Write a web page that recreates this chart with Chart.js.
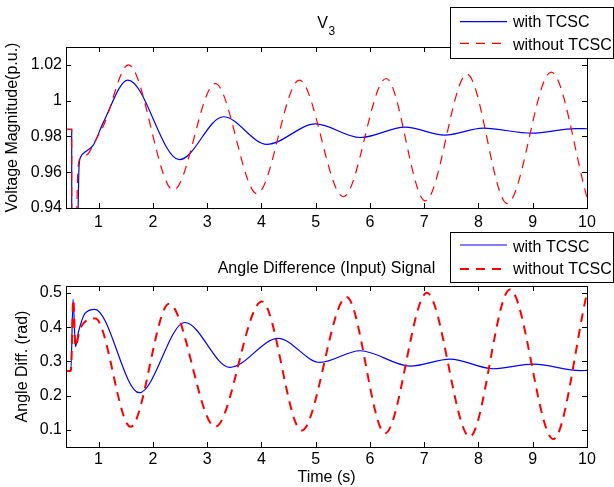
<!DOCTYPE html>
<html>
<head>
<meta charset="utf-8">
<script src="https://cdn.jsdelivr.net/npm/chart.js@4.4.1/dist/chart.umd.min.js"></script>
<style>
  body { margin: 0; background: #fff; }
  #wrap { position: relative; width: 614px; height: 487px; }
  #wrap canvas { position: absolute; left: 0; top: 0; }
</style>
</head>
<body>
<div id="wrap">
  <canvas id="voltChart" width="614" height="487"></canvas>
  <canvas id="angleChart" width="614" height="487"></canvas>
</div>
<script>
// tick values
var timeTicks = [1, 2, 3, 4, 5, 6, 7, 8, 9, 10];
var voltTicks = [0.94, 0.96, 0.98, 1, 1.02];
var angleTicks = [0.1, 0.2, 0.3, 0.4, 0.5];

var seriesNames = ['with TCSC', 'without TCSC'];

// V3 magnitude (p.u.)
var voltTimeWith = [0.40, 0.505, 0.506, 0.595, 0.64, 0.67, 0.75, 0.90, 1.09, 1.54, 2.49, 3.30, 4.10, 5.00, 5.82, 6.65, 7.38, 8.09, 8.98, 9.80, 10.0];
var voltWith     = [0.984, 0.984, 0.90, 0.90, 0.963, 0.9685, 0.9713, 0.975, 0.988, 1.0115, 0.967, 0.991, 0.9756, 0.987, 0.9794, 0.9852, 0.9807, 0.9846, 0.9818, 0.9844, 0.9843];

var voltTimeWithout = [0.40, 0.505, 0.506, 0.57, 0.62, 0.67, 0.81, 0.93, 1.09, 1.55, 2.38, 3.15, 3.92, 4.70, 5.51, 6.30, 7.02, 7.79, 8.53, 9.34, 10.0];
var voltWithout     = [0.984, 0.984, 0.90, 0.90, 0.962, 0.968, 0.9704, 0.977, 0.986, 1.020, 0.950, 1.0096, 0.948, 1.0115, 0.9463, 1.0124, 0.9440, 1.0148, 0.9425, 1.0160, 0.946];

// angle difference (rad)
var angleTimeWith = [0.40, 0.49, 0.53, 0.575, 0.63, 0.75, 0.93, 1.75, 2.59, 3.42, 4.31, 5.08, 5.82, 6.74, 7.48, 8.27, 9.01, 9.88, 10.0];
var angleWith     = [0.272, 0.272, 0.481, 0.343, 0.386, 0.44, 0.452, 0.2085, 0.4135, 0.2825, 0.367, 0.297, 0.331, 0.2863, 0.3067, 0.2785, 0.292, 0.273, 0.2735];

var angleTimeWithout = [0.40, 0.49, 0.535, 0.575, 0.66, 0.94, 1.59, 2.30, 3.15, 4.01, 4.74, 5.57, 6.28, 7.05, 7.84, 8.58, 9.38, 10.0];
var angleWithout     = [0.272, 0.272, 0.481, 0.343, 0.396, 0.425, 0.109, 0.468, 0.109, 0.475, 0.098, 0.488, 0.090, 0.500, 0.080, 0.510, 0.073, 0.50];

var FONT = "'Liberation Sans', Arial, Helvetica, sans-serif";
Chart.defaults.font.family = FONT;
Chart.defaults.font.size = 16;
Chart.defaults.color = '#000';

function makePoints(times, values) {
  var pts = [];
  for (var i = 0; i < times.length; i++) {
    pts.push({x: times[i], y: values[i]});
  }
  return pts;
}

//box around the plot with inner ticks, then title and legend on top
var matlabAxes = {
  id: 'matlabAxes',
  afterDatasetsDraw: function(chart, args, opts) {
    var a = chart.chartArea;
    var ctx = chart.ctx;
    var xs = chart.scales.x, ys = chart.scales.y;
    ctx.save();
    ctx.strokeStyle = '#000';
    ctx.lineWidth = 1;
    ctx.setLineDash([]);
    ctx.beginPath();
    timeTicks.forEach(function(t) {
      var px = Math.round(xs.getPixelForValue(t)) + 0.5;
      ctx.moveTo(px, a.bottom); ctx.lineTo(px, a.bottom - 5);
      ctx.moveTo(px, a.top); ctx.lineTo(px, a.top + 5);
    });
    opts.yTicks.forEach(function(v) {
      var py = Math.round(ys.getPixelForValue(v)) + 0.5;
      ctx.moveTo(a.left, py); ctx.lineTo(a.left + 5, py);
      ctx.moveTo(a.right, py); ctx.lineTo(a.right - 5, py);
    });
    ctx.stroke();
    ctx.strokeRect(a.left + 0.5, a.top + 0.5, a.right - a.left, a.bottom - a.top);
    ctx.restore();
  },
  afterDraw: function(chart, args, opts) {
    var ctx = chart.ctx;
    ctx.save();
    ctx.fillStyle = '#000';
    ctx.textBaseline = 'alphabetic';
    // title
    ctx.font = '16px ' + FONT;
    ctx.textAlign = opts.sub ? 'left' : 'center';
    ctx.fillText(opts.title, opts.titleX, opts.titleY);
    if (opts.sub) {
      var w = ctx.measureText(opts.title).width;
      ctx.font = '12px ' + FONT;
      ctx.fillText(opts.sub, opts.titleX + w + 0.5, opts.titleY + 6.5);
    }
    // legend box
    var L = opts.legend;
    ctx.fillStyle = '#fff';
    ctx.fillRect(L.x, L.y, L.w, L.h);
    ctx.strokeStyle = '#000';
    ctx.lineWidth = 1;
    ctx.strokeRect(L.x + 0.5, L.y + 0.5, L.w, L.h);
    chart.data.datasets.forEach(function(ds, i) {
      var ly = L.rows[i];
      ctx.strokeStyle = ds.borderColor;
      ctx.lineWidth = ds.borderWidth;
      ctx.setLineDash(ds.borderDash || []);
      ctx.beginPath();
      ctx.moveTo(460, ly);
      ctx.lineTo(507, ly);
      ctx.stroke();
      ctx.setLineDash([]);
      ctx.fillStyle = '#000';
      ctx.font = '16px ' + FONT;
      ctx.textAlign = 'left';
      ctx.fillText(ds.label, 513, L.base[i]);
    });
    ctx.restore();
  }
};

function createConfig(p) {
  return {
    type: 'line',
    data: {
      datasets: [{
        label: seriesNames[0],
        data: makePoints(p.t1, p.v1),
        borderColor: '#0000ff',
        borderWidth: 1.2,
        pointRadius: 0,
        cubicInterpolationMode: 'monotone',
        order: 1
      }, {
        label: seriesNames[1],
        data: makePoints(p.t2, p.v2),
        borderColor: '#ff0000',
        borderWidth: p.dashWidth,
        borderDash: [9, 7],
        pointRadius: 0,
        cubicInterpolationMode: 'monotone',
        order: 0
      }]
    },
    options: {
      responsive: false,
      animation: false,
      events: [],
      layout: { padding: p.padding },
      plugins: {
        legend: { display: false },
        tooltip: { enabled: false },
        matlabAxes: p.fig
      },
      scales: {
        x: {
          type: 'linear',
          min: 0.4,
          max: 10,
          grid: { display: false, drawTicks: false },
          border: { display: false },
          ticks: { padding: p.xPad, maxRotation: 0, callback: function(v) { return String(v); } },
          afterBuildTicks: function(s) { s.ticks = timeTicks.map(function(v) { return {value: v}; }); },
          afterFit: function(s) { s.height = p.xHeight; },
          title: p.xTitle
        },
        y: {
          min: p.yMin,
          max: p.yMax,
          grid: { display: false, drawTicks: false },
          border: { display: false },
          ticks: { padding: 4, callback: function(v) { return String(Math.round(v * 1000) / 1000); } },
          afterBuildTicks: function(s) { s.ticks = p.yTicks.map(function(v) { return {value: v}; }); },
          afterFit: function(s) { s.width = 66; },
          title: { display: true, text: p.yLabel, padding: {top: p.yTitlePad, bottom: 0} }
        }
      }
    },
    plugins: [matlabAxes]
  };
}

new Chart(document.getElementById('voltChart'), createConfig({
  t1: voltTimeWith, v1: voltWith,
  t2: voltTimeWithout, v2: voltWithout,
  dashWidth: 1.2,
  yMin: 0.94, yMax: 1.03, yTicks: voltTicks,
  yLabel: 'Voltage Magnitude(p.u.)', yTitlePad: 3.4,
  padding: {left: 0, right: 27, top: 47, bottom: 249},
  xHeight: 30, xPad: 5,
  xTitle: { display: false },
  fig: {
    yTicks: voltTicks,
    title: 'V', sub: '3', titleX: 317.3, titleY: 28.3,
    legend: { x: 450, y: 7, w: 163, h: 51, rows: [21.7, 43.3], base: [26.7, 50] }
  }
}));

new Chart(document.getElementById('angleChart'), createConfig({
  t1: angleTimeWith, v1: angleWith,
  t2: angleTimeWithout, v2: angleWithout,
  dashWidth: 2,
  yMin: 0.05, yMax: 0.52, yTicks: angleTicks,
  yLabel: 'Angle Diff. (rad)', yTitlePad: 13.4,
  padding: {left: 0, right: 27, top: 286, bottom: 0},
  xHeight: 40, xPad: 3,
  xTitle: { display: true, text: 'Time (s)', padding: {top: 0, bottom: 0} },
  fig: {
    yTicks: angleTicks,
    title: 'Angle Difference (Input) Signal', titleX: 326.5, titleY: 272.7,
    legend: { x: 450, y: 232, w: 163, h: 50, rows: [245, 269], base: [251.7, 274] }
  }
}));
</script>
</body>
</html>
